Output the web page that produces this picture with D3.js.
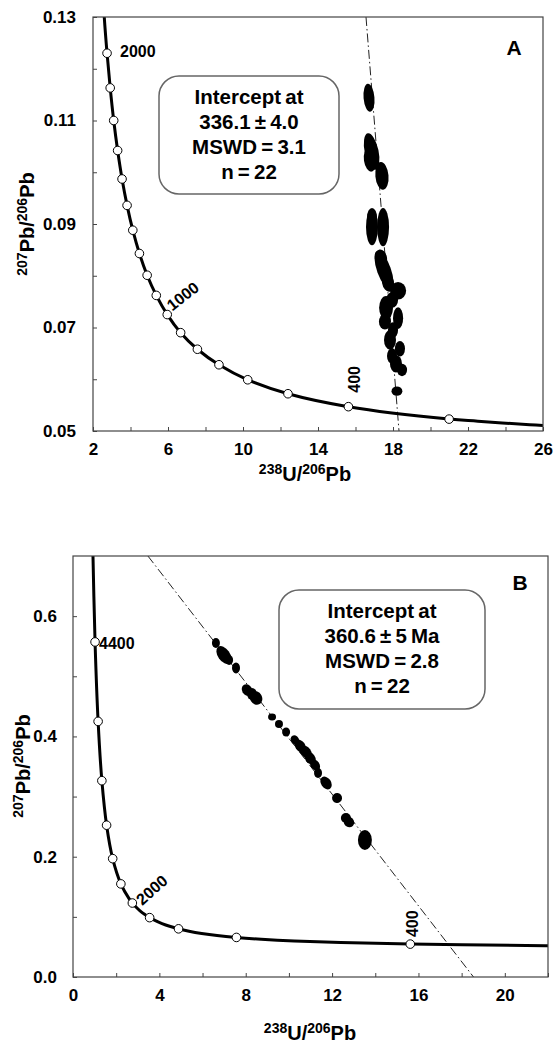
<!DOCTYPE html>
<html>
<head>
<meta charset="utf-8">
<script src="https://cdn.jsdelivr.net/npm/d3@7"></script>
<style>
  body { margin: 0; background: #fff; }
  svg text { font-family: "Liberation Sans", Arial, sans-serif; font-weight: bold; fill: #000; }
</style>
</head>
<body>
<svg id="chart" width="553" height="1045"></svg>
<script>
// concordia curve points: age (Ma), 238U/206Pb, 207Pb/206Pb
const concAge = [4800, 4400, 4000, 3600, 3200, 2800, 2400, 2100, 2000, 1900, 1800, 1700, 1600, 1500, 1400, 1300, 1200, 1100, 1000, 900, 800, 700, 600, 500, 400, 300, 280, 250, 240];
const concX = [0.9045, 1.0215, 1.1630, 1.3370, 1.5557, 1.8384, 2.2170, 2.5968, 2.7490, 2.9174, 3.1046, 3.3140, 3.5497, 3.8170, 4.1227, 4.4756, 4.8875, 5.3746, 5.9593, 6.6743, 7.5684, 8.7182, 10.252, 12.399, 15.621, 20.992, 22.527, 25.289, 26.363];
const concY = [0.7346, 0.5571, 0.4250, 0.3264, 0.2524, 0.1968, 0.1548, 0.1302, 0.1230, 0.1163, 0.1100, 0.1042, 0.0987, 0.0936, 0.0888, 0.0843, 0.0801, 0.0762, 0.0725, 0.0690, 0.0658, 0.0628, 0.0599, 0.0572, 0.0547, 0.0523, 0.0519, 0.0512, 0.0510];

// age markers (white dots)
const markerAgesA = [2000, 1900, 1800, 1700, 1600, 1500, 1400, 1300, 1200, 1100, 1000, 900, 800, 700, 600, 500, 400, 300];
const markerAgesB = [4400, 4000, 3600, 3200, 2800, 2400, 2000, 1600, 1200, 800, 400];

// discordia lines (two end points)
const discAx = [16.56, 18.32];
const discAy = [0.13, 0.05];
const discBx = [3.47, 18.55];
const discBy = [0.70, 0.0];

// error ellipses panel A : centre, half-widths, tilt
const ellAx = [16.72, 16.86, 16.77, 17.41, 16.88, 16.88, 17.47, 17.36, 17.52, 17.73, 18.27, 17.95, 17.63, 18.27, 17.57, 18.00, 17.84, 18.37, 17.95, 18.16, 18.48, 18.21];
const ellAy = [0.1144, 0.1040, 0.1024, 0.0993, 0.0894, 0.0912, 0.0894, 0.0834, 0.0811, 0.0788, 0.0771, 0.0753, 0.0738, 0.0718, 0.0711, 0.0695, 0.0676, 0.0659, 0.0645, 0.0630, 0.0618, 0.0577];
const ellAsx = [0.29, 0.37, 0.32, 0.35, 0.32, 0.27, 0.32, 0.32, 0.37, 0.32, 0.43, 0.32, 0.37, 0.27, 0.32, 0.27, 0.32, 0.27, 0.27, 0.32, 0.27, 0.29];
const ellAsy = [0.0027, 0.0036, 0.0023, 0.0027, 0.0035, 0.0019, 0.0037, 0.0017, 0.0039, 0.0019, 0.0017, 0.0015, 0.0023, 0.0021, 0.0015, 0.0015, 0.0019, 0.0015, 0.0015, 0.0017, 0.0012, 0.0009];
const ellArot = [-5, -12, -8, -5, 0, 0, 0, -10, -20, -10, 0, 0, 0, 0, 0, 0, 0, 0, 0, 0, 0, 0];

// error ellipses panel B
const ellBx = [6.62, 6.99, 7.55, 8.06, 8.48, 9.22, 9.54, 9.87, 10.28, 10.52, 10.79, 10.98, 11.21, 11.35, 11.72, 12.23, 12.64, 12.78, 13.52, 7.23, 8.29, 10.65];
const ellBy = [0.5553, 0.5354, 0.5138, 0.4772, 0.4639, 0.4323, 0.4207, 0.4074, 0.3941, 0.3841, 0.3741, 0.3641, 0.3525, 0.3392, 0.3226, 0.2976, 0.2644, 0.2577, 0.2278, 0.5271, 0.4705, 0.3774];
const ellBsx = [0.185, 0.278, 0.185, 0.232, 0.278, 0.185, 0.185, 0.185, 0.185, 0.232, 0.232, 0.232, 0.208, 0.185, 0.232, 0.232, 0.232, 0.232, 0.324, 0.185, 0.232, 0.185];
const ellBsy = [0.0083, 0.0166, 0.0091, 0.0100, 0.0116, 0.0058, 0.0067, 0.0075, 0.0083, 0.0116, 0.0116, 0.0116, 0.0100, 0.0083, 0.0116, 0.0083, 0.0083, 0.0091, 0.0166, 0.0083, 0.0100, 0.0100];
const ellBrot = [0, -35, 0, -30, -30, 0, 0, 0, -30, -35, -35, -35, -35, 0, -35, -40, 0, -45, 0, 0, 0, -35];

// ticks
const xTicksA = [2, 4, 6, 8, 10, 12, 14, 16, 18, 20, 22, 24, 26];
const xLabelsA = [2, 6, 10, 14, 18, 22, 26];
const yTicksA = [0.05, 0.06, 0.07, 0.08, 0.09, 0.10, 0.11, 0.12, 0.13];
const yLabelsA = [0.05, 0.07, 0.09, 0.11, 0.13];
const xTicksB = [0, 2, 4, 6, 8, 10, 12, 14, 16, 18, 20, 22];
const xLabelsB = [0, 4, 8, 12, 16, 20];
const yTicksB = [0, 0.1, 0.2, 0.3, 0.4, 0.5, 0.6];
const yLabelsB = [0, 0.2, 0.4, 0.6];

const boxTextA = ["Intercept at", "336.1 \u00b1 4.0", "MSWD = 3.1", "n = 22"];
const boxTextB = ["Intercept at", "360.6 \u00b1 5 Ma", "MSWD = 2.8", "n = 22"];

const svg = d3.select("#chart");
svg.append("rect").attr("width", 553).attr("height", 1045).attr("fill", "#fff");

const conc = concAge.map((a, i) => ({ age: a, x: concX[i], y: concY[i] }));

function drawPanel(p) {
  const x = d3.scaleLinear().domain(p.xDomain).range([p.left, p.right]);
  const y = d3.scaleLinear().domain(p.yDomain).range([p.bottom, p.top]);
  const g = svg.append("g");

  g.append("clipPath").attr("id", "clip" + p.id)
    .append("rect")
    .attr("x", p.left).attr("y", p.top)
    .attr("width", p.right - p.left).attr("height", p.bottom - p.top);

  const plot = g.append("g").attr("clip-path", "url(#clip" + p.id + ")");

  // discordia
  plot.append("line")
    .attr("x1", x(p.discX[0])).attr("y1", y(p.discY[0]))
    .attr("x2", x(p.discX[1])).attr("y2", y(p.discY[1]))
    .attr("stroke", "#222")
    .attr("stroke-width", 1)
    .attr("stroke-dasharray", "9,3,1.5,3");

  // concordia
  const line = d3.line().x(d => x(d.x)).y(d => y(d.y)).curve(d3.curveCatmullRom.alpha(0.5));
  plot.append("path")
    .datum(conc)
    .attr("d", line)
    .attr("fill", "none")
    .attr("stroke", "#000")
    .attr("stroke-width", 3);

  // ellipses
  const ells = p.ex.map((v, i) => ({ x: v, y: p.ey[i], sx: p.esx[i], sy: p.esy[i], rot: p.erot[i] }));
  const kx = Math.abs(x(1) - x(0)), ky = Math.abs(y(0) - y(1));
  plot.selectAll(".ell")
    .data(ells).enter()
    .append("ellipse")
    .attr("class", "ell")
    .attr("transform", d => "translate(" + x(d.x) + "," + y(d.y) + ") rotate(" + d.rot + ")")
    .attr("rx", d => d.sx * kx)
    .attr("ry", d => d.sy * ky)
    .attr("fill", "#000");

  // age markers
  const marks = conc.filter(d => p.markers.includes(d.age));
  plot.selectAll(".mk")
    .data(marks).enter()
    .append("circle")
    .attr("class", "mk")
    .attr("cx", d => x(d.x))
    .attr("cy", d => y(d.y))
    .attr("r", 4.3)
    .attr("fill", "#fff")
    .attr("stroke", "#000")
    .attr("stroke-width", 1);

  // age labels next to markers
  p.ageLabels.forEach(l => {
    const m = conc.find(d => d.age === l.age);
    const px = x(m.x) + l.dx, py = y(m.y) + l.dy;
    g.append("text")
      .attr("transform", "translate(" + px + "," + py + ") rotate(" + l.rot + ")")
      .style("font-size", "16px")
      .text(l.age);
  });

  // axes, ticks pointing inward
  const xAxis = d3.axisBottom(x).tickValues(p.xTicks).tickSizeInner(-4).tickSizeOuter(0).tickPadding(12)
    .tickFormat(d => p.xLabels.includes(d) ? d : "");
  const ax = g.append("g").attr("transform", "translate(0," + p.bottom + ")").call(xAxis);
  const yAxis = d3.axisLeft(y).tickValues(p.yTicks).tickSizeInner(-4).tickSizeOuter(0).tickPadding(p.yPad)
    .tickFormat(d => p.yLabels.some(v => Math.abs(v - d) < 1e-9) ? d3.format(p.yFmt)(d) : "");
  const ay = g.append("g").attr("transform", "translate(" + p.left + ",0)").call(yAxis);
  [ax, ay].forEach(a => {
    a.select(".domain").remove();
    a.selectAll("line").attr("stroke", "#444");
    a.selectAll("text").style("font-size", "17px").style("font-family", "'Liberation Sans', Arial, sans-serif").style("font-weight", "bold");
  });

  // frame
  g.append("rect")
    .attr("x", p.left).attr("y", p.top)
    .attr("width", p.right - p.left).attr("height", p.bottom - p.top)
    .attr("fill", "none").attr("stroke", "#444").attr("stroke-width", 1.2);

  // info box
  g.append("rect")
    .attr("x", p.box[0]).attr("y", p.box[1])
    .attr("width", p.box[2]).attr("height", p.box[3])
    .attr("rx", 20).attr("ry", 20)
    .attr("fill", "#fff").attr("stroke", "#666").attr("stroke-width", 1.5);
  const bt = g.append("text")
    .attr("text-anchor", "middle")
    .style("font-size", "20.5px")
    .style("word-spacing", "-1.5px");
  p.boxText.forEach((t, i) => {
    bt.append("tspan")
      .attr("x", p.box[0] + p.box[2] / 2)
      .attr("y", p.box[1] + 28 + i * 25)
      .text(t);
  });

  // panel letter
  g.append("text")
    .attr("x", p.letterPos[0]).attr("y", p.letterPos[1])
    .attr("text-anchor", "middle")
    .style("font-size", "21px")
    .text(p.id);

  // axis titles
  const xt = g.append("text")
    .attr("x", p.xTitle[0]).attr("y", p.xTitle[1])
    .attr("text-anchor", "middle")
    .style("font-size", "20px");
  xt.append("tspan").style("font-size", "14px").attr("dy", -7).text("238");
  xt.append("tspan").attr("dy", 7).text("U/");
  xt.append("tspan").style("font-size", "14px").attr("dy", -7).text("206");
  xt.append("tspan").attr("dy", 7).text("Pb");

  const yt = g.append("text")
    .attr("transform", "translate(" + p.yTitle[0] + "," + p.yTitle[1] + ") rotate(-90)")
    .attr("text-anchor", "middle")
    .style("font-size", "20px");
  yt.append("tspan").style("font-size", "14px").attr("dy", -7).text("207");
  yt.append("tspan").attr("dy", 7).text("Pb/");
  yt.append("tspan").style("font-size", "14px").attr("dy", -7).text("206");
  yt.append("tspan").attr("dy", 7).text("Pb");
}

drawPanel({
  id: "A",
  left: 93, right: 543, top: 17, bottom: 431,
  xDomain: [2, 26], yDomain: [0.05, 0.13],
  xTicks: xTicksA, xLabels: xLabelsA, yTicks: yTicksA, yLabels: yLabelsA, yFmt: ".2f", yPad: 17,
  discX: discAx, discY: discAy,
  ex: ellAx, ey: ellAy, esx: ellAsx, esy: ellAsy, erot: ellArot,
  markers: markerAgesA,
  ageLabels: [
    { age: 2000, dx: 13, dy: 4, rot: 0 },
    { age: 1000, dx: 5, dy: -3, rot: -38 },
    { age: 400, dx: 12, dy: -14, rot: -90 }
  ],
  box: [159, 76, 180, 118], boxText: boxTextA,
  letterPos: [514, 55],
  xTitle: [305, 481], yTitle: [34, 224]
});

drawPanel({
  id: "B",
  left: 73, right: 548, top: 556, bottom: 977,
  xDomain: [0, 22], yDomain: [0, 0.7],
  xTicks: xTicksB, xLabels: xLabelsB, yTicks: yTicksB, yLabels: yLabelsB, yFmt: ".1f", yPad: 16,
  discX: discBx, discY: discBy,
  ex: ellBx, ey: ellBy, esx: ellBsx, esy: ellBsy, erot: ellBrot,
  markers: markerAgesB,
  ageLabels: [
    { age: 4400, dx: 4, dy: 7, rot: 0 },
    { age: 2000, dx: 10, dy: 3, rot: -42 },
    { age: 400, dx: 8, dy: -7, rot: -90 }
  ],
  box: [279, 590, 206, 119], boxText: boxTextB,
  letterPos: [520, 590],
  xTitle: [310, 1040], yTitle: [30, 766]
});
</script>
</body>
</html>
